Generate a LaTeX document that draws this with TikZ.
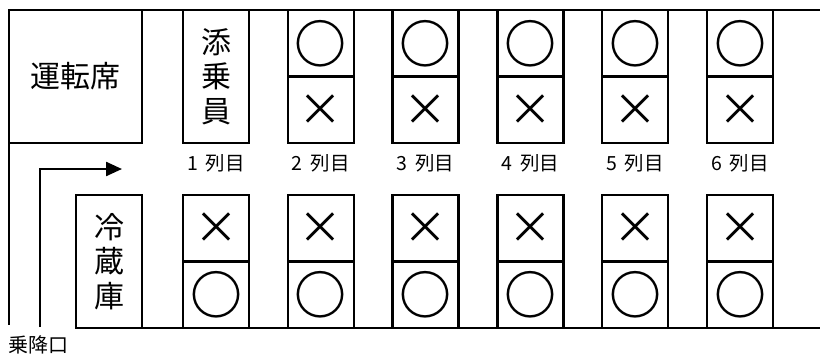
\documentclass[tikz,border=0pt]{standalone}
\usepackage{fontspec}
\setmainfont{Noto Sans CJK JP}
\usetikzlibrary{positioning, arrows.meta}

\begin{document}
\begin{tikzpicture}[x=1pt, y=-1pt,
    wall/.style={line width=2.4pt},
    seat/.style={draw, line width=2.4pt, minimum width=66pt, minimum height=66.5pt, inner sep=0pt},
    tall/.style={seat, minimum height=133pt, align=center, font=\fontsize{30}{34.5}\selectfont},
    maru/.style={seat, font=\bfseries\fontsize{52}{52}\selectfont},
    batsu/.style={seat, font=\fontsize{44}{44}\selectfont},
    collabel/.style={font=\fontsize{19.5}{19.5}\selectfont}]
  \useasboundingbox (0,0) rectangle (820,354);
  % car body
  \draw[wall] (820,10) -- (9,10) -- (9,325);
  \draw[wall] (76,328) -- (820,328);
  \node[tall, minimum width=133pt] (driver) at (75.5,76.5) {運転席};
  \node[tall] (crew) at (216,76.5) {添\\乗\\員};
  \node[tall] (fridge) at (109,261.5) {冷\\蔵\\庫};
  % seats, top row
  \foreach \i [evaluate=\i as \x using 216+104.8*(\i-1)] in {2,...,6} {
    \node[maru] (up\i-a) at (\x,43.25) {○};
    \node[batsu] (up\i-b) at (\x,109.75) {×};
  }
  % seats, bottom row
  \foreach \i [evaluate=\i as \x using 216+104.8*(\i-1)] in {1,...,6} {
    \node[collabel] (col\i) at (\x,163) {\i\hspace{0.4em}列目};
    \node[batsu] (lo\i-a) at (\x,228.25) {×};
    \node[maru] (lo\i-b) at (\x,294.75) {○};
  }
  % entrance
  \coordinate (door) at (40,327);
  \coordinate (aisle) at (122,169);
  \draw[wall, -{Triangle[length=16pt, width=14pt]}] (door) |- (aisle);
  \node[font=\fontsize{20}{20}\selectfont] (entry) at (39,345) {乗降口};
\end{tikzpicture}
\end{document}
